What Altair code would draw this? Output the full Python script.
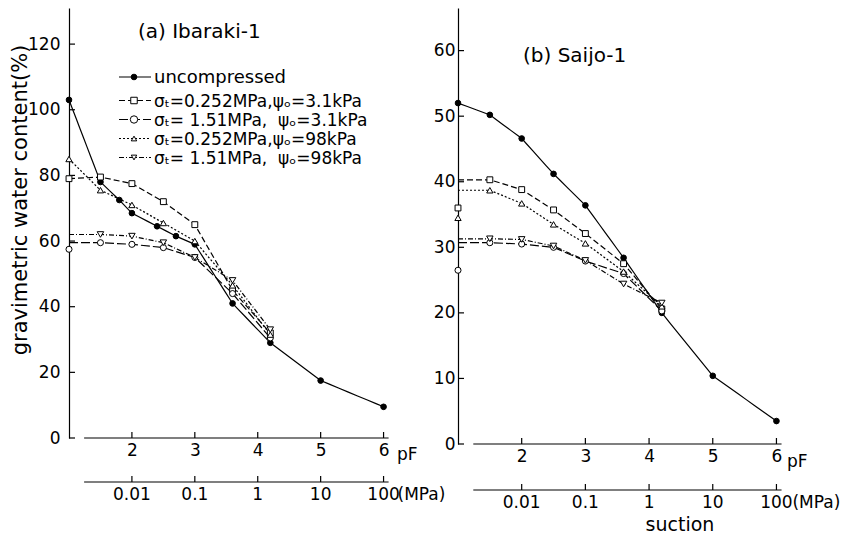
import altair as alt
import pandas as pd

FONT = "DejaVu Sans"

# ---------------- data ----------------
series_keys = ["unc", "s1", "s2", "s3", "s4"]
legend_labels = [
    "uncompressed",
    "σₜ=0.252MPa,ψₒ=3.1kPa",
    "σₜ=\u00a01.51MPa,\u00a0\u00a0ψₒ=3.1kPa",
    "σₜ=0.252MPa,ψₒ=98kPa",
    "σₜ=\u00a01.51MPa,\u00a0\u00a0ψₒ=98kPa",
]

# (a) Ibaraki-1
a_unc_pF = [1.0, 1.5, 1.8, 2.0, 2.4, 2.7, 3.0, 3.6, 4.2, 5.0, 6.0]
a_unc_w = [103, 78, 72.5, 68.5, 64.5, 61.5, 59, 41, 29, 17.5, 9.5]
a_pF = [1.0, 1.5, 2.0, 2.5, 3.0, 3.6, 4.2]
a_s1 = [79, 79.5, 77.5, 72, 65, 45, 32]
a_s2 = [59.5, 59.5, 59, 58, 55, 44, 30.5]
a_s3 = [85, 75.5, 71, 65.5, 60, 46.5, 31.5]
a_s4 = [62, 62, 61.5, 59.5, 55, 48, 33]
a_first_marked = {"s1": True, "s2": False, "s3": True, "s4": False}
a_sat = {"s2": 57.5}

# (b) Saijo-1
b_unc_pF = [1.0, 1.5, 2.0, 2.5, 3.0, 3.6, 4.2, 5.0, 6.0]
b_unc_w = [52, 50.2, 46.6, 41.2, 36.4, 28.4, 20, 10.4, 3.5]
b_pF = [1.0, 1.5, 2.0, 2.5, 3.0, 3.6, 4.2]
b_s1 = [40.3, 40.3, 38.8, 35.7, 32.1, 27.5, 20.6]
b_s2 = [30.7, 30.7, 30.5, 30.0, 27.9, 26.0, 20.3]
b_s3 = [38.7, 38.7, 36.7, 33.5, 30.6, 26.3, 21.0]
b_s4 = [31.3, 31.3, 31.2, 30.2, 28.0, 24.4, 21.5]
b_first_marked = {"s1": False, "s2": False, "s3": False, "s4": False}
b_sat = {"s1": 36, "s2": 26.5, "s3": 34.5}

pF_ticks = [2, 3, 4, 5, 6]
mpa_labels = ["0.01", "0.1", "1", "10", "100"]
a_yticks = [0, 20, 40, 60, 80, 100, 120]
b_yticks = [0, 10, 20, 30, 40, 50, 60]

# ---------------- styles ----------------
dashes = [[10, 0], [6, 3], [9, 3], [2, 2], [5, 2, 1, 2]]
shapes = ["circle", "square", "circle", "triangle-up", "triangle-down"]
fills = ["black", "white", "white", "white", "white"]
sizes = [32, 42, 55, 30, 30]


def build_frames(unc_pF, unc_w, pF, s_vals, first_marked, sat):
    lines, pts = [], []
    for i, (p, w) in enumerate(zip(unc_pF, unc_w)):
        lines.append(dict(series="unc", pF=p, w=w, o=i))
        pts.append(dict(series="unc", pF=p, w=w))
    for key, vals in s_vals.items():
        for i, (p, w) in enumerate(zip(pF, vals)):
            lines.append(dict(series=key, pF=p, w=w, o=i))
            if i > 0 or first_marked[key]:
                pts.append(dict(series=key, pF=p, w=w))
    for key, w in sat.items():
        pts.append(dict(series=key, pF=pF[0], w=w))
    return pd.DataFrame(lines), pd.DataFrame(pts)


ONE = pd.DataFrame({"a": [0]})


def txt(text, x, y, size=17, align="left", baseline="alphabetic", angle=0):
    return alt.Chart(ONE).mark_text(
        text=text, align=align, baseline=baseline, fontSize=size, font=FONT,
        color="black", angle=angle,
    ).encode(x=alt.value(x), y=alt.value(y))


def panel(df_l, df_p, W, H, ymax, yticks, title, tx, ty, cfg, legend=False, ytitle=False):
    xs = alt.Scale(domain=[1, 6.15], nice=False, zero=False)
    ys = alt.Scale(domain=[0, ymax], nice=False)
    X = alt.X("pF:Q", scale=xs, axis=alt.Axis(
        values=pF_ticks, format="d", domain=False, ticks=False, tickSize=0,
        labelPadding=cfg["xlp"], labelFontSize=17, labelFlush=False, title=None, grid=False))
    Y = alt.Y("w:Q", scale=ys, axis=alt.Axis(
        values=yticks, domain=True, ticks=False, tickSize=0, labelPadding=cfg["ylp"],
        labelFontSize=17, labelFlush=False, title=None, grid=False))

    layers = []
    # inward y ticks
    layers.append(alt.Chart(pd.DataFrame({"w": yticks})).mark_rule(color="black", strokeWidth=1.2)
                  .encode(y=Y, x=alt.value(0), x2=alt.value(6)))
    # pF axis line and ticks
    layers.append(alt.Chart(pd.DataFrame({"pF": [1.24], "pF2": [6.08]})).mark_rule(color="black", strokeWidth=1.2)
                  .encode(x=X, x2="pF2:Q", y=alt.value(H)))
    layers.append(alt.Chart(pd.DataFrame({"pF": pF_ticks})).mark_rule(color="black", strokeWidth=1.2)
                  .encode(x=X, y=alt.value(H), y2=alt.value(H - 6)))
    # MPa axis
    my = H + cfg["mpa"]
    layers.append(alt.Chart(pd.DataFrame({"pF": [1.24], "pF2": [6.08]})).mark_rule(color="black", strokeWidth=1.2)
                  .encode(x=X, x2="pF2:Q", y=alt.value(my)))
    layers.append(alt.Chart(pd.DataFrame({"pF": pF_ticks})).mark_rule(color="black", strokeWidth=1.2)
                  .encode(x=X, y=alt.value(my), y2=alt.value(my - 6)))
    layers.append(alt.Chart(pd.DataFrame({"pF": pF_ticks, "lab": mpa_labels}))
                  .mark_text(fontSize=17, font=FONT, color="black", baseline="middle")
                  .encode(x=X, y=alt.value(my + 12.5), text="lab:N"))
    layers.append(alt.Chart(pd.DataFrame({"pF": [6]}))
                  .mark_text(text="(MPa)", fontSize=17, font=FONT, color="black", baseline="middle",
                             align="left", dx=cfg["mpadx"])
                  .encode(x=X, y=alt.value(my + 12.5)))
    layers.append(txt("pF", cfg["pfx"], H + cfg["pfy"], size=17, baseline="middle"))

    # data
    layers.append(alt.Chart(df_l).mark_line(color="black", strokeWidth=1.2).encode(
        x=X, y=Y, detail="series:N", order="o:Q",
        strokeDash=alt.StrokeDash("series:N", scale=alt.Scale(domain=series_keys, range=dashes), legend=None)))
    layers.append(alt.Chart(df_p).mark_point(filled=True, stroke="black", strokeWidth=1, opacity=1).encode(
        x=X, y=Y,
        shape=alt.Shape("series:N", scale=alt.Scale(domain=series_keys, range=shapes), legend=None),
        fill=alt.Fill("series:N", scale=alt.Scale(domain=series_keys, range=fills), legend=None),
        size=alt.Size("series:N", scale=alt.Scale(domain=series_keys, range=sizes), legend=None)))

    layers.append(txt(title, tx, ty, size=20))

    if legend:
        base_y = [75, 98.5, 117.5, 136.5, 155.5]
        for k, lab, by, d, sh, fi, sz in zip(series_keys, legend_labels, base_y, dashes, shapes, fills, sizes):
            sy = by - 6
            layers.append(alt.Chart(ONE).mark_rule(color="black", strokeWidth=1.2, strokeDash=d)
                          .encode(x=alt.value(50), x2=alt.value(82), y=alt.value(sy)))
            layers.append(alt.Chart(ONE).mark_point(shape=sh, filled=True, fill=fi, stroke="black",
                                                    strokeWidth=1, size=sz, opacity=1)
                          .encode(x=alt.value(65), y=alt.value(sy)))
            layers.append(txt(lab, 85, by, size=17 if k != "unc" else 18))
    if ytitle:
        layers.append(txt("gravimetric water content(%)", -42, 192, size=21,
                          align="center", angle=270))
    if "suction" in cfg:
        layers.append(txt("suction", cfg["suction"][0], H + cfg["suction"][1], size=19,
                          align="center", baseline="middle"))
    return alt.layer(*layers).properties(width=W, height=H)


a_l, a_p = build_frames(a_unc_pF, a_unc_w, a_pF,
                        {"s1": a_s1, "s2": a_s2, "s3": a_s3, "s4": a_s4}, a_first_marked, a_sat)
b_l, b_p = build_frames(b_unc_pF, b_unc_w, b_pF,
                        {"s1": b_s1, "s2": b_s2, "s3": b_s3, "s4": b_s4}, b_first_marked, b_sat)

left = panel(a_l, a_p, 324, 430, 131, a_yticks, "(a) Ibaraki-1", 69, 30,
             dict(xlp=4, ylp=9, mpa=44, mpadx=14, pfx=328, pfy=17),
             legend=True, ytitle=True)
right = panel(b_l, b_p, 328, 436, 66.5, b_yticks, "(b) Saijo-1", 65, 54,
              dict(xlp=4, ylp=3, mpa=46, mpadx=16, pfx=329, pfy=18, suction=(222, 81)))

chart = alt.hconcat(left, right, spacing=65, bounds="flush").properties(
    padding={"left": 1, "top": 0, "right": 0, "bottom": 0}
).configure_view(stroke=None).configure_axis(
    labelFont=FONT, labelColor="black", domainColor="black", domainWidth=1.2
)

chart.save("out.html", embed_options={"renderer": "svg", "actions": False})
